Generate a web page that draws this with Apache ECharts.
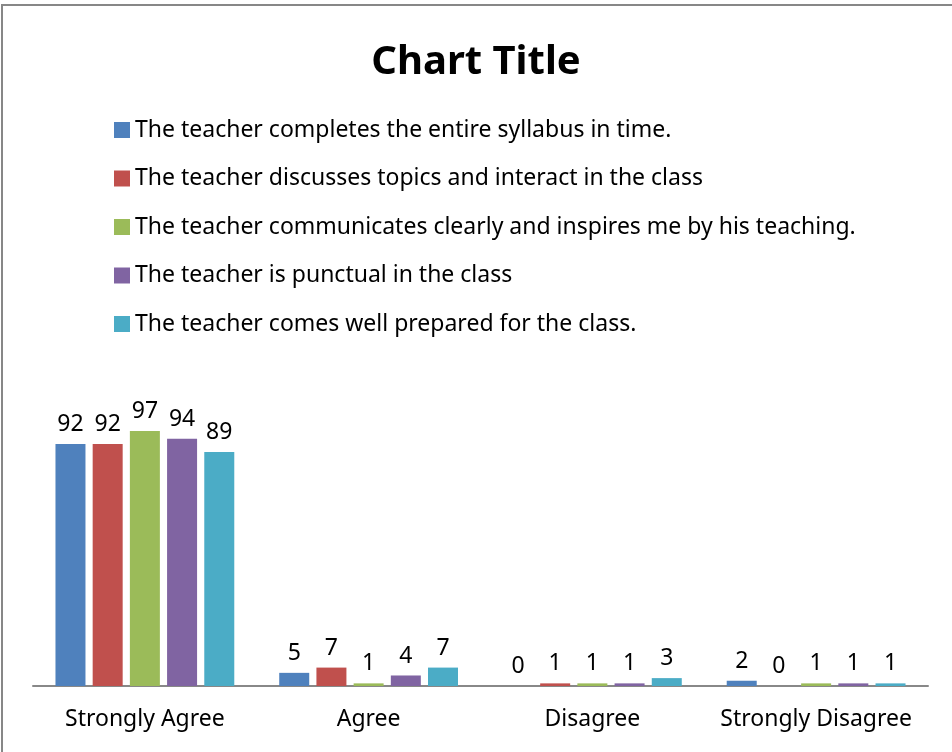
<!DOCTYPE html>
<html>
<head>
<meta charset="utf-8">
<title>Chart Title</title>
<script src="https://cdn.jsdelivr.net/npm/echarts@6/dist/echarts.min.js"></script>
<style>
	html, body { margin: 0; padding: 0; overflow: hidden; background: #fff; }
	#frame { position: absolute; left: 1px; top: 4px; width: 1000px; height: 1000px; border: 2px solid #878787; }
	#chart { position: absolute; left: 0; top: 0; width: 952px; height: 752px; }
</style>
</head>
<body>
<div id="frame"></div>
<div id="chart"></div>
<script>
	// 1 类目(横轴)
	var categories = ['Strongly Agree', 'Agree', 'Disagree', 'Strongly Disagree'];
	// 2 图例名称
	var seriesNames = [
		'The teacher completes the entire syllabus in time.',
		'The teacher discusses topics and interact in the class',
		'The teacher communicates clearly and inspires me by his teaching.',
		'The teacher is punctual in the class',
		'The teacher comes well prepared for the class.'
	];
	// 3 每个系列的值
	var syllabusValues = [92, 5, 0, 2];
	var discussValues = [92, 7, 1, 0];
	var communicateValues = [97, 1, 1, 1];
	var punctualValues = [94, 4, 1, 1];
	var preparedValues = [89, 7, 3, 1];
	var colors = ['#4F81BD', '#C0504D', '#9BBB59', '#8064A2', '#4BACC6'];

	var allValues = [syllabusValues, discussValues, communicateValues, punctualValues, preparedValues];
	var fontName = '"Noto Sans", sans-serif';

	var myChart = echarts.init(document.getElementById('chart'));
	var option = {
		animation: false,
		color: colors,
		title: {
			text: 'Chart Title',
			left: 'center',
			top: 38,
			textStyle: { fontFamily: fontName, fontSize: 40, fontWeight: 'bold', color: '#000' }
		},
		legend: {
			orient: 'vertical',
			left: 109,
			top: 111,
			itemWidth: 16,
			itemHeight: 16,
			itemGap: 20.5,
			icon: 'rect',
			data: seriesNames,
			textStyle: { fontFamily: fontName, fontSize: 23, color: '#000', lineHeight: 28 }
		},
		grid: { left: 33, right: 24, top: 423, bottom: 66 },
		xAxis: {
			type: 'category',
			data: categories,
			axisLine: { lineStyle: { color: '#888', width: 2 } },
			axisTick: { show: false },
			axisLabel: { fontFamily: fontName, fontSize: 23, color: '#000', margin: 22, interval: 0 }
		},
		yAxis: {
			type: 'value',
			min: 0,
			max: 100,
			show: false,
			splitLine: { show: false }
		},
		series: []
	};
	// 4 生成柱状系列
	seriesNames.map(function (name, index) {
		option.series.push({
			name: name,
			type: 'bar',
			data: allValues[index],
			barWidth: 30,
			barGap: '24%',
			label: {
				show: true,
				position: 'top',
				distance: 8,
				fontFamily: fontName,
				fontSize: 23,
				color: '#000'
			}
		});
	});
	myChart.setOption(option);
</script>
</body>
</html>
